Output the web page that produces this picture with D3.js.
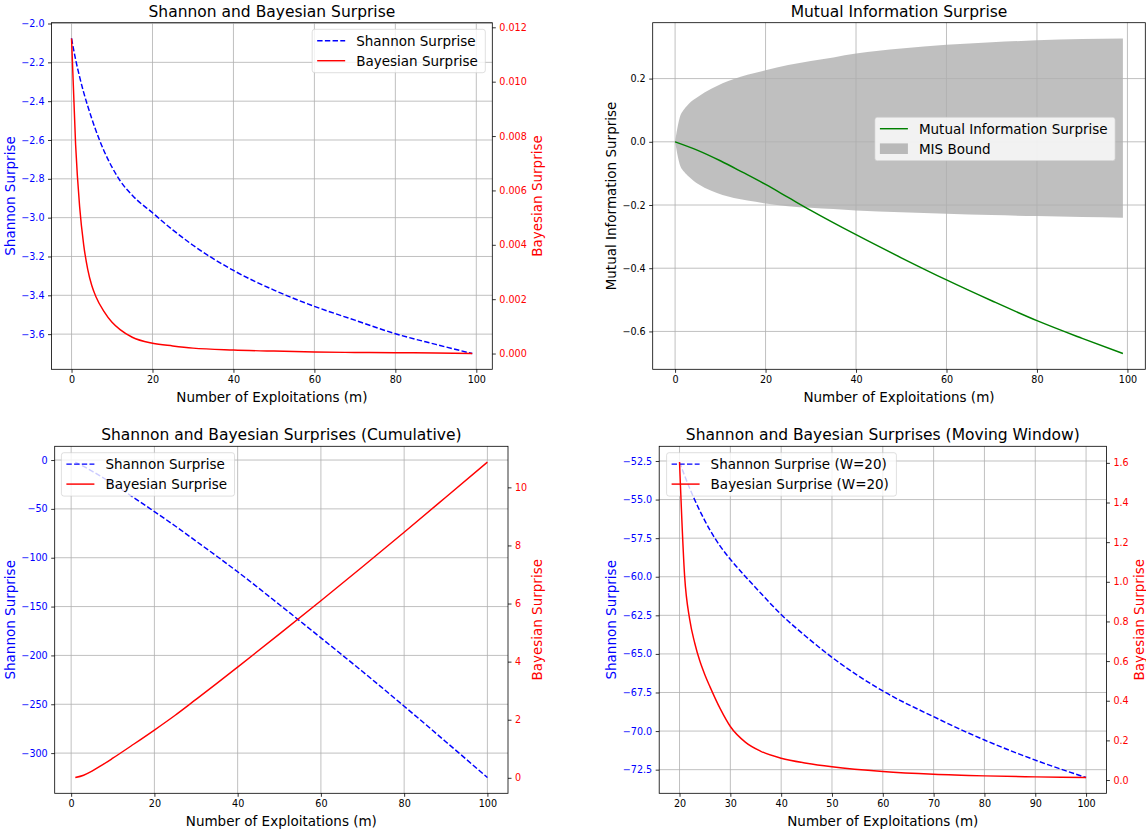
<!DOCTYPE html>
<html>
<head>
<meta charset="utf-8">
<script src="https://cdn.jsdelivr.net/npm/d3@7"></script>
<style>
  body { margin: 0; background: #fff; }
  svg text { font-family: "DejaVu Sans", sans-serif; }
</style>
</head>
<body>
<svg id="chart" width="1146" height="831"></svg>
<script>
// ---- data ----
// top left: per-step surprises
const p1M       = [0, 1, 2, 3, 4, 5, 6, 8, 10, 12, 15, 20, 25, 30, 40, 50, 60, 70, 80, 90, 99];
const p1Shannon = [-2.077, -2.185, -2.275, -2.355, -2.425, -2.49, -2.55, -2.655, -2.74, -2.81, -2.885, -2.975,
                   -3.063, -3.142, -3.272, -3.373, -3.457, -3.528, -3.598, -3.653, -3.70];
const p1Bayes   = [0.01159, 0.0077, 0.0054, 0.0040, 0.0031, 0.0025, 0.0021, 0.00155, 0.00115, 0.00088, 0.0006,
                   0.00038, 0.00028, 0.0002, 0.00013, 0.00009, 0.00006, 0.00004, 0.00003, 0.00002, 0.0];

// top right: mutual information surprise and its bound
const p2LineM = [0, 5, 10, 15, 20, 25, 30, 40, 50, 60, 70, 80, 90, 99];
const p2Mis   = [0, -0.027, -0.06, -0.097, -0.135, -0.176, -0.217, -0.294, -0.367, -0.437, -0.503, -0.566, -0.622, -0.670];
const p2BandM = [0, 1, 2, 3, 5, 8, 13, 16, 20, 25, 30, 35, 40, 50, 60, 70, 80, 90, 99];
const p2Upper = [0, 0.075, 0.103, 0.12, 0.142, 0.168, 0.199, 0.212, 0.226, 0.243, 0.256, 0.267, 0.279, 0.295,
                 0.307, 0.315, 0.321, 0.325, 0.327];
const p2Lower = [0, -0.07, -0.095, -0.11, -0.133, -0.155, -0.178, -0.186, -0.195, -0.204, -0.209, -0.213, -0.217,
                 -0.223, -0.228, -0.232, -0.235, -0.238, -0.240];

// bottom left: cumulative
const p3M       = [1, 3, 5, 7, 10, 15, 20, 25, 30, 35, 40, 50, 60, 70, 80, 90, 100];
const p3Shannon = [-2.08, -6.55, -11.3, -16.4, -24.3, -38.3, -52.8, -67.5, -83, -98.5, -114.4, -147.9, -182,
                   -216.5, -252, -288.3, -325];
const p3Bayes   = [0.01, 0.09, 0.23, 0.40, 0.675, 1.155, 1.645, 2.155, 2.70, 3.25, 3.81, 4.945, 6.095, 7.265,
                   8.455, 9.66, 10.87];

// bottom right: moving window W=20
const p4M       = [20, 21, 22, 23, 24, 25, 26, 28, 30, 33, 36, 40, 45, 50, 60, 70, 80, 90, 100];
const p4Shannon = [-52.57, -53.45, -54.27, -55.03, -55.73, -56.38, -56.98, -58.02, -58.87, -60.0, -61.07, -62.45,
                   -63.9, -65.22, -67.4, -69.07, -70.58, -71.88, -73.01];
const p4Bayes   = [1.604, 1.03, 0.81, 0.69, 0.60, 0.53, 0.47, 0.36, 0.27, 0.19, 0.145, 0.11, 0.085, 0.067, 0.043,
                   0.029, 0.021, 0.016, 0.0126];

// ticks
const xTicks100    = [0, 20, 40, 60, 80, 100];
const p1LeftTicks  = [-3.6, -3.4, -3.2, -3.0, -2.8, -2.6, -2.4, -2.2, -2.0];
const p1RightTicks = [0, 0.002, 0.004, 0.006, 0.008, 0.010, 0.012];
const p2YTicks     = [-0.6, -0.4, -0.2, 0.0, 0.2];
const p3LeftTicks  = [-300, -250, -200, -150, -100, -50, 0];
const p3RightTicks = [0, 2, 4, 6, 8, 10];
const p4XTicks     = [20, 30, 40, 50, 60, 70, 80, 90, 100];
const p4LeftTicks  = [-72.5, -70.0, -67.5, -65.0, -62.5, -60.0, -57.5, -55.0, -52.5];
const p4RightTicks = [0.0, 0.2, 0.4, 0.6, 0.8, 1.0, 1.2, 1.4, 1.6];

// ---- drawing ----
const TICK = 9.6, LABEL = 13.5, TITLE = 15.5;
const GRID = "#b0b0b0";
const BLUE = "#0000ff", RED = "#ff0000", GREEN = "#008000";
const LW = 1.45;
const DASH = "5.4,2.3";

const svg = d3.select("#chart");
svg.append("rect").attr("width", 1146).attr("height", 831).attr("fill", "#fff");

// matplotlib style 5% margins
function pad(ext) {
  const d = (ext[1] - ext[0]) * 0.05;
  return [ext[0] - d, ext[1] + d];
}

const zip = (a, b) => a.map((v, i) => [v, b[i]]);

function grid(g, b, x, y, xt, yt) {
  const gg = g.append("g").attr("stroke", GRID).attr("stroke-width", 0.8);
  gg.selectAll(".gx").data(xt).join("line")
    .attr("x1", d => x(d)).attr("x2", d => x(d)).attr("y1", b.t).attr("y2", b.b);
  gg.selectAll(".gy").data(yt).join("line")
    .attr("x1", b.l).attr("x2", b.r).attr("y1", d => y(d)).attr("y2", d => y(d));
}

function plotLine(g, x, y, xs, ys, color, dashed) {
  g.append("path")
    .datum(zip(xs, ys))
    .attr("fill", "none")
    .attr("stroke", color)
    .attr("stroke-width", LW)
    .attr("stroke-dasharray", dashed ? DASH : null)
    .attr("d", d3.line().x(d => x(d[0])).y(d => y(d[1])).curve(d3.curveMonotoneX));
}

function styleAxis(ax, color) {
  ax.select(".domain").remove();
  ax.selectAll("line").attr("stroke", "#000").attr("stroke-width", 0.8);
  ax.selectAll("text").attr("fill", color).attr("font-size", TICK).attr("font-family", "DejaVu Sans");
}

function bottomAxis(g, b, x, ticks, fmt, label) {
  const ax = g.append("g").attr("transform", `translate(0,${b.b})`)
    .call(d3.axisBottom(x).tickValues(ticks).tickFormat(fmt).tickSize(3.5).tickPadding(3.5));
  styleAxis(ax, "#000");
  g.append("text")
    .attr("x", (b.l + b.r) / 2).attr("y", b.b + 27.4)
    .attr("text-anchor", "middle").attr("dominant-baseline", "central")
    .attr("font-size", LABEL).text(label);
}

function sideAxis(g, b, y, ticks, fmt, color, label, right) {
  const gen = right ? d3.axisRight(y) : d3.axisLeft(y);
  const x0 = right ? b.r : b.l;
  const ax = g.append("g").attr("transform", `translate(${x0},0)`)
    .call(gen.tickValues(ticks).tickFormat(fmt).tickSize(3.5).tickPadding(3.5));
  styleAxis(ax, color);
  const bb = ax.node().getBBox();
  const lx = right ? x0 + bb.x + bb.width + 10 : x0 + bb.x - 11.3;
  g.append("text")
    .attr("transform", `translate(${lx},${(b.t + b.b) / 2}) rotate(-90)`)
    .attr("text-anchor", "middle").attr("dominant-baseline", "central")
    .attr("font-size", LABEL).attr("fill", color).text(label);
}

function frame(g, b) {
  g.append("rect")
    .attr("x", b.l).attr("y", b.t).attr("width", b.r - b.l).attr("height", b.b - b.t)
    .attr("fill", "none").attr("stroke", "#000").attr("stroke-width", 0.8);
}

function title(g, b, text) {
  g.append("text")
    .attr("x", (b.l + b.r) / 2).attr("y", b.t - 5.9)
    .attr("text-anchor", "middle").attr("font-size", TITLE).text(text);
}

// items: {label, color, dashed, patch}
function legend(g, pos, items) {
  const lg = g.append("g");
  const box = lg.append("rect");
  const texts = items.map((it, i) => {
    const cy = 11.4 + 20 * i;
    if (it.patch) {
      lg.append("rect").attr("x", 5).attr("y", cy - 5.3).attr("width", 28).attr("height", 10.6)
        .attr("fill", it.color).attr("fill-opacity", 0.5);
    } else {
      lg.append("line").attr("x1", 5).attr("x2", 33).attr("y1", cy).attr("y2", cy)
        .attr("stroke", it.color).attr("stroke-width", LW)
        .attr("stroke-dasharray", it.dashed ? DASH : null);
    }
    return lg.append("text").attr("x", 44).attr("y", cy)
      .attr("dominant-baseline", "central").attr("font-size", LABEL).text(it.label);
  });
  const w = 44 + d3.max(texts, t => t.node().getComputedTextLength()) + 7.5;
  box.attr("width", w).attr("height", 43.4).attr("rx", 2.5)
    .attr("fill", "#fff").attr("fill-opacity", 0.8)
    .attr("stroke", "#cccccc").attr("stroke-opacity", 0.8).attr("stroke-width", 0.8);
  const left = pos.align === "right" ? pos.x - w : pos.x;
  lg.attr("transform", `translate(${left},${pos.y})`);
}

const fmtInt = d3.format("d");

// ---- panel 1 ----
{
  const b = {l: 51.5, r: 492.3, t: 22.7, b: 369.3};
  const g = svg.append("g");
  const x = d3.scaleLinear(pad(d3.extent(p1M)), [b.l, b.r]);
  const y = d3.scaleLinear(pad(d3.extent(p1Shannon)), [b.b, b.t]);
  const y2 = d3.scaleLinear(pad(d3.extent(p1Bayes)), [b.b, b.t]);
  grid(g, b, x, y, xTicks100, p1LeftTicks);
  plotLine(g, x, y, p1M, p1Shannon, BLUE, true);
  legend(g, {x: b.r - 7, y: b.t + 6.6, align: "right"}, [
    {label: "Shannon Surprise", color: BLUE, dashed: true},
    {label: "Bayesian Surprise", color: RED}
  ]);
  frame(g, b);
  bottomAxis(g, b, x, xTicks100, fmtInt, "Number of Exploitations (m)");
  sideAxis(g, b, y, p1LeftTicks, d3.format(".1f"), BLUE, "Shannon Surprise", false);
  plotLine(g, x, y2, p1M, p1Bayes, RED, false);
  sideAxis(g, b, y2, p1RightTicks, d3.format(".3f"), RED, "Bayesian Surprise", true);
  title(g, b, "Shannon and Bayesian Surprise");
}

// ---- panel 2 ----
{
  const b = {l: 652.7, r: 1145.3, t: 22.7, b: 369.3};
  const g = svg.append("g");
  const x = d3.scaleLinear(pad(d3.extent(p2BandM)), [b.l, b.r]);
  const y = d3.scaleLinear(pad(d3.extent([...p2Mis, ...p2Upper, ...p2Lower])), [b.b, b.t]);
  g.append("path")
    .datum(p2BandM.map((m, i) => [m, p2Lower[i], p2Upper[i]]))
    .attr("fill", "#808080").attr("fill-opacity", 0.5)
    .attr("d", d3.area().x(d => x(d[0])).y0(d => y(d[1])).y1(d => y(d[2])).curve(d3.curveMonotoneX));
  grid(g, b, x, y, xTicks100, p2YTicks);
  plotLine(g, x, y, p2LineM, p2Mis, GREEN, false);
  legend(g, {x: 874.9, y: 117.3, align: "left"}, [
    {label: "Mutual Information Surprise", color: GREEN},
    {label: "MIS Bound", color: "#808080", patch: true}
  ]);
  frame(g, b);
  bottomAxis(g, b, x, xTicks100, fmtInt, "Number of Exploitations (m)");
  sideAxis(g, b, y, p2YTicks, d3.format(".1f"), "#000", "Mutual Information Surprise", false);
  title(g, b, "Mutual Information Surprise");
}

// ---- panel 3 ----
{
  const b = {l: 54.7, r: 508, t: 446.3, b: 793.3};
  const g = svg.append("g");
  const x = d3.scaleLinear(pad(d3.extent(p3M)), [b.l, b.r]);
  const y = d3.scaleLinear(pad(d3.extent(p3Shannon)), [b.b, b.t]);
  const y2 = d3.scaleLinear(pad(d3.extent(p3Bayes)), [b.b, b.t]);
  grid(g, b, x, y, xTicks100, p3LeftTicks);
  plotLine(g, x, y, p3M, p3Shannon, BLUE, true);
  legend(g, {x: b.l + 6.7, y: b.t + 6.4, align: "left"}, [
    {label: "Shannon Surprise", color: BLUE, dashed: true},
    {label: "Bayesian Surprise", color: RED}
  ]);
  frame(g, b);
  bottomAxis(g, b, x, xTicks100, fmtInt, "Number of Exploitations (m)");
  sideAxis(g, b, y, p3LeftTicks, fmtInt, BLUE, "Shannon Surprise", false);
  plotLine(g, x, y2, p3M, p3Bayes, RED, false);
  sideAxis(g, b, y2, p3RightTicks, fmtInt, RED, "Bayesian Surprise", true);
  title(g, b, "Shannon and Bayesian Surprises (Cumulative)");
}

// ---- panel 4 ----
{
  const b = {l: 659.2, r: 1106.4, t: 446.3, b: 793.3};
  const g = svg.append("g");
  const x = d3.scaleLinear(pad(d3.extent(p4M)), [b.l, b.r]);
  const y = d3.scaleLinear(pad(d3.extent(p4Shannon)), [b.b, b.t]);
  const y2 = d3.scaleLinear(pad(d3.extent(p4Bayes)), [b.b, b.t]);
  grid(g, b, x, y, p4XTicks, p4LeftTicks);
  plotLine(g, x, y, p4M, p4Shannon, BLUE, true);
  legend(g, {x: b.l + 7.4, y: b.t + 6.4, align: "left"}, [
    {label: "Shannon Surprise (W=20)", color: BLUE, dashed: true},
    {label: "Bayesian Surprise (W=20)", color: RED}
  ]);
  frame(g, b);
  bottomAxis(g, b, x, p4XTicks, fmtInt, "Number of Exploitations (m)");
  sideAxis(g, b, y, p4LeftTicks, d3.format(".1f"), BLUE, "Shannon Surprise", false);
  plotLine(g, x, y2, p4M, p4Bayes, RED, false);
  sideAxis(g, b, y2, p4RightTicks, d3.format(".1f"), RED, "Bayesian Surprise", true);
  title(g, b, "Shannon and Bayesian Surprises (Moving Window)");
}
</script>
</body>
</html>
